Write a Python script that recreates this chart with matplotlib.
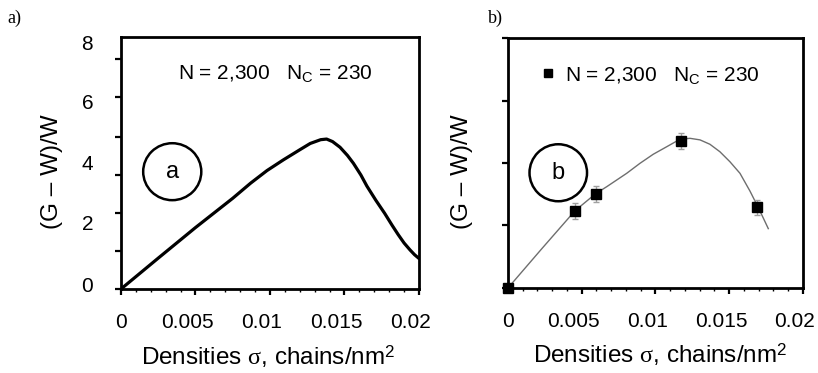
import numpy as np
import matplotlib
matplotlib.use('Agg')
import matplotlib.pyplot as plt
from matplotlib.patches import Ellipse
from matplotlib.ticker import MultipleLocator
from matplotlib.transforms import ScaledTranslation

plt.rcParams['font.family'] = ['Liberation Sans', 'DejaVu Sans']
plt.rcParams['mathtext.fontset'] = 'custom'
plt.rcParams['mathtext.rm'] = 'Liberation Sans'
plt.rcParams['mathtext.it'] = 'Liberation Serif'

# panel a: model curve
sigma_a = [0, 0.0025, 0.005, 0.0075, 0.0087, 0.0098, 0.0109, 0.0120, 0.0127,
           0.0134, 0.0138, 0.0142, 0.0147, 0.0152, 0.0156, 0.0161, 0.0165,
           0.0171, 0.0177, 0.0182, 0.0186, 0.0190, 0.0194, 0.0197, 0.0200]
gw_a = [0, 0.98, 1.95, 2.88, 3.36, 3.76, 4.10, 4.42, 4.62,
        4.74, 4.76, 4.68, 4.50, 4.24, 3.99, 3.62, 3.27,
        2.82, 2.40, 2.02, 1.73, 1.46, 1.24, 1.09, 0.97]

# panel b: measured points + fitted line
sigma_b = [0, 0.00454, 0.00595, 0.01173, 0.0169]
gw_b = [0, 2.47, 3.01, 4.71, 2.58]
err_b = [0.1, 0.25, 0.25, 0.25, 0.25]
sigma_fit = [0, 0.00228, 0.00454, 0.00595, 0.00669, 0.00805, 0.00895, 0.00985,
             0.01076, 0.01166, 0.01234, 0.01302, 0.01369, 0.01437, 0.01505,
             0.01573, 0.01641, 0.0169, 0.01731, 0.01765]
gw_fit = [0, 1.25, 2.47, 3.02, 3.24, 3.67, 3.99, 4.28,
          4.52, 4.76, 4.79, 4.74, 4.60, 4.36, 4.04,
          3.67, 3.10, 2.64, 2.24, 1.90]

x_ticks = [0, 0.005, 0.01, 0.015, 0.02]
x_labels = ['0', '0.005', '0.01', '0.015', '0.02']
y_label_pos_a = [0.13, 2.1, 4.03, 5.94, 7.84]
y_labels_a = ['0', '2', '4', '6', '8']
y_marks_a = [0, 1.2, 2.42, 3.63, 4.84, 6.08, 7.3]
y_marks_b = [0, 2, 4, 6, 8]

legend_text = 'N = 2,300   N$_\\mathregular{C}$ = 230'
xlabel = 'Densities $\\sigma$, chains/nm$^\\mathregular{2}$'
ylabel = '(G \u2013 W)/W'

fig = plt.figure(figsize=(8.18, 3.73), dpi=100)
ax1 = fig.add_axes([0.1479, 0.2252, 0.3643, 0.6756])
ax2 = fig.add_axes([0.6210, 0.2279, 0.3606, 0.6702])


def style_axes(ax):
    for s in ax.spines.values():
        s.set_linewidth(2)
    ax.set_xlim(0, 0.02)
    ax.set_ylim(0, 8)
    ax.set_xticks(x_ticks)
    ax.set_xticklabels(x_labels)
    ax.xaxis.set_minor_locator(MultipleLocator(0.001))
    ax.tick_params(axis='x', which='major', direction='out', length=4.5, width=1.6,
                   labelsize=15, pad=13)
    ax.tick_params(axis='x', which='minor', direction='out', length=2.5, width=1)
    ax.set_xlabel(xlabel, fontsize=17.5)
    ax.xaxis.label.set_va('baseline')
    ax.set_ylabel(ylabel, fontsize=17.5)


def shift_xlabels(ax):
    # tick labels in the original sit a little left of their ticks
    off = ScaledTranslation(-8 / 100, 0, fig.dpi_scale_trans)
    for t in ax.xaxis.get_major_ticks()[1:]:
        t.label1.set_transform(t.label1.get_transform() + off)


# ---- panel a ----
ax1.plot(sigma_a, gw_a, color='black', lw=2.3, solid_capstyle='round',
         solid_joinstyle='round')
style_axes(ax1)
ax1.set_yticks(y_label_pos_a)
ax1.set_yticklabels(y_labels_a)
ax1.set_yticks(y_marks_a, minor=True)
ax1.tick_params(axis='y', which='major', length=0, labelsize=15, pad=20)
ax1.tick_params(axis='y', which='minor', direction='out', length=4.3, width=1.6)
ax1.xaxis.set_label_coords(0.493, -0.302)
ax1.yaxis.set_label_coords(-0.195, 0.464)
ax1.text(0.519, 0.857, legend_text, transform=ax1.transAxes, ha='center',
         va='center', fontsize=15)
ax1.add_patch(Ellipse((0.172, 0.4655), 0.195, 0.226, transform=ax1.transAxes,
                      fill=False, lw=1.8, color='black'))
ax1.text(0.172, 0.4655, 'a', transform=ax1.transAxes, ha='center', va='center',
         fontsize=17)
shift_xlabels(ax1)

# ---- panel b ----
ax2.plot(sigma_fit, gw_fit, color='#6e6e6e', lw=1.0)
ax2.errorbar(sigma_b, gw_b, yerr=err_b, fmt='none', ecolor='#a0a0a0',
             elinewidth=1, capsize=2.5, capthick=1)
pts, = ax2.plot(sigma_b, gw_b, 's', color='black', ms=6.5, clip_on=False,
                zorder=5, label=legend_text)
style_axes(ax2)
ax2.set_yticks(y_marks_b)
ax2.set_yticklabels([])
ax2.tick_params(axis='y', which='major', direction='out', length=4.3, width=1.6)
ax2.xaxis.set_label_coords(0.515, -0.30)
ax2.yaxis.set_label_coords(-0.119, 0.464)
ax2.legend(handles=[pts], loc='center left', bbox_to_anchor=(0.066, 0.852),
           frameon=False, fontsize=15, handlelength=1, handletextpad=0.3,
           borderpad=0, markerscale=0.8)
ax2.add_patch(Ellipse((0.1705, 0.461), 0.195, 0.228, transform=ax2.transAxes,
                      fill=False, lw=1.8, color='black'))
ax2.text(0.1705, 0.461, 'b', transform=ax2.transAxes, ha='center', va='center',
         fontsize=17)
shift_xlabels(ax2)

fig.text(0.009, 0.950, 'a)', family='Liberation Serif', fontsize=13, va='center')
fig.text(0.596, 0.950, 'b)', family='Liberation Serif', fontsize=13, va='center')

fig.savefig('out.png', dpi=100)
